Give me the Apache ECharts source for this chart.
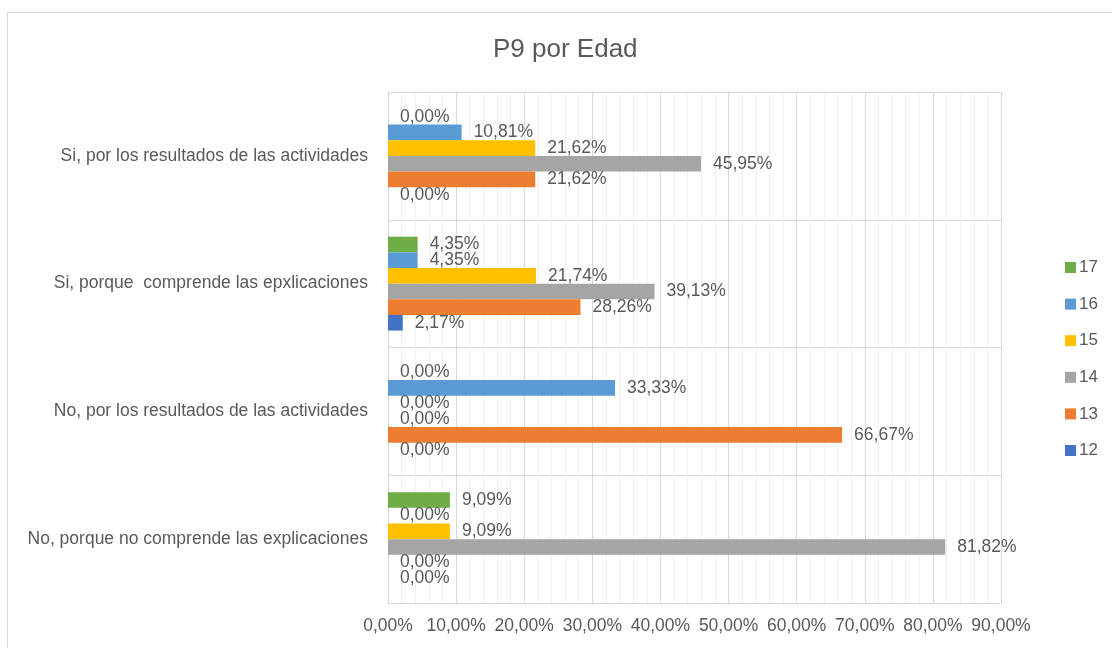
<!DOCTYPE html>
<html>
<head>
<meta charset="utf-8">
<script src="https://cdn.jsdelivr.net/npm/echarts@6/dist/echarts.min.js"></script>
<style>
  html, body { margin: 0; padding: 0; background: #fff; }
  #frame { position: absolute; left: 7px; top: 12px; width: 1120px; height: 650px;
           border-left: 1px solid #d9d9d9; border-top: 1px solid #d9d9d9; }
  #chart { position: absolute; left: 0; top: 0; width: 1112px; height: 648px; }
</style>
</head>
<body>
<div id="frame"></div>
<div id="chart"></div>
<script>
// categorías de abajo hacia arriba (como en Excel)
const categories = [
  'No, porque no comprende las explicaciones',
  'No, por los resultados de las actividades',
  'Si, porque  comprende las epxlicaciones',
  'Si, por los resultados de las actividades',
];
const edades = ['12', '13', '14', '15', '16', '17'];
const colores = ['#4472C4', '#ED7D31', '#A5A5A5', '#FFC000', '#5B9BD5', '#70AD47'];

// porcentajes por edad, mismo orden que categories
const edad12 = [0, 0, 2.17, 0];
const edad13 = [0, 66.67, 28.26, 21.62];
const edad14 = [81.82, 0, 39.13, 45.95];
const edad15 = [9.09, 0, 21.74, 21.62];
const edad16 = [0, 33.33, 4.35, 10.81];
const edad17 = [9.09, 0, 4.35, 0];
const valores = [edad12, edad13, edad14, edad15, edad16, edad17];

const xTicks = [0, 10, 20, 30, 40, 50, 60, 70, 80, 90];

const FONT = '"Liberation Sans", Arial, sans-serif';
const GRIS = '#595959';
const pct = (v) => v.toFixed(2).replace('.', ',') + '%';

// ECharts apila la primera serie arriba: se recorren de 17 a 12
const orden = edades.map((_, i) => i).reverse();

const chart = echarts.init(document.getElementById('chart'));
chart.setOption({
  animation: false,
  textStyle: { fontFamily: FONT },
  title: {
    text: 'P9 por Edad',
    left: 488, top: 32,
    textStyle: { fontFamily: FONT, fontSize: 26, fontWeight: 'normal', color: GRIS },
  },
  legend: {
    orient: 'vertical',
    left: 1060, top: 254,
    data: orden.map((i) => edades[i]),
    itemWidth: 11, itemHeight: 11, itemGap: 19.6,
    icon: 'rect',
    textStyle: { fontFamily: FONT, fontSize: 17, color: GRIS, lineHeight: 17, padding: [0, 0, 0, -2] },
  },
  grid: { left: 388, right: 111, top: 92, bottom: 45, containLabel: false },
  xAxis: {
    type: 'value',
    min: xTicks[0], max: xTicks[xTicks.length - 1], interval: 10,
    axisLine: { show: true, lineStyle: { color: '#d9d9d9' } },
    axisTick: { show: false },
    axisLabel: { formatter: (v) => pct(v), fontFamily: FONT, fontSize: 17.5, color: GRIS, margin: 14 },
    splitLine: { show: true, lineStyle: { color: '#d9d9d9' } },
    minorTick: { show: false, splitNumber: 5 },
    minorSplitLine: { show: true, lineStyle: { color: '#efefef' } },
  },
  yAxis: {
    type: 'category',
    data: categories,
    axisLine: { show: true, lineStyle: { color: '#d9d9d9' } },
    axisTick: { show: false },
    axisLabel: { fontFamily: FONT, fontSize: 17.5, color: GRIS, margin: 20 },
    splitLine: { show: true, lineStyle: { color: '#d9d9d9' } },
  },
  series: orden.map((i) => ({
    name: edades[i],
    type: 'bar',
    data: valores[i],
    barGap: '0%',
    barCategoryGap: '26.5%',
    itemStyle: { color: colores[i] },
    label: {
      show: true, position: 'right', distance: 12,
      formatter: (p) => pct(p.value),
      fontFamily: FONT, fontSize: 17.5, color: GRIS,
    },
  })),
});
</script>
</body>
</html>
